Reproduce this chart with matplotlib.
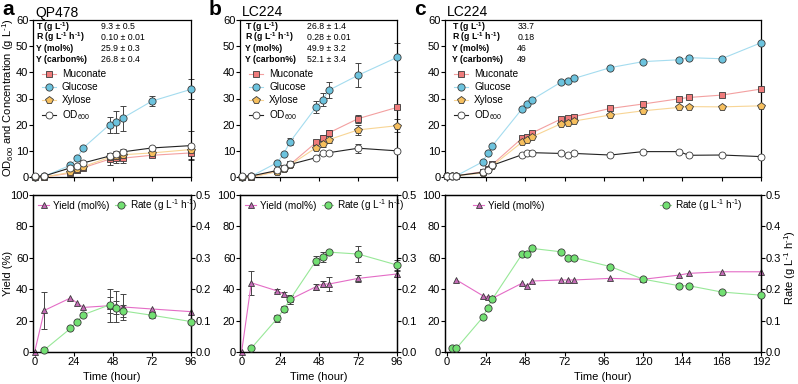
import numpy as np
import matplotlib
matplotlib.use('Agg')
import matplotlib.pyplot as plt
from matplotlib.ticker import FormatStrFormatter

plt.rcParams['font.family'] = ['Liberation Sans', 'DejaVu Sans']
plt.rcParams['mathtext.fontset'] = 'custom'
plt.rcParams['mathtext.rm'] = 'Liberation Sans'
plt.rcParams['mathtext.bf'] = 'Liberation Sans:bold'
plt.rcParams['mathtext.it'] = 'Liberation Sans:italic'

INV = r'$^{\mathrm{‐1}}$'        # small raised "-1"
INV_B = r'$^{\mathbf{‐1}}$'

# ---- data ----
time_ab = [0, 6, 22, 26, 30, 46, 50, 54, 72, 96]
time_c = [0, 3, 6, 22, 25, 28, 46, 49, 52, 70, 74, 78, 100, 120, 142, 148, 168, 192]

a_muconate = [0, 0, 1.5, 2.5, 3.6, 6.8, 7.2, 7.2, 8.3, 9.2]
a_muconate_err = [0, 0, 0.5, 0.5, 0.6, 2.3, 2.0, 2.0, 0.8, 2.3]
a_glucose = [0, 0.3, 4.5, 7.3, 11.2, 20.0, 21.0, 22.5, 29.0, 33.5]
a_glucose_err = [0, 0, 0, 0, 0, 3.0, 4.2, 4.8, 1.8, 3.8]
a_xylose = [0, 0, 1.8, 3.0, 4.0, 7.5, 8.0, 8.5, 9.2, 10.5]
a_xylose_err = [0, 0, 0.5, 0.5, 0.6, 1.5, 1.5, 1.5, 1.0, 1.5]
a_od = [0.3, 0.4, 3.5, 4.2, 5.4, 8.0, 8.8, 9.6, 11.1, 12.0]
a_od_err = [0, 0, 0, 0, 0, 1.0, 1.0, 1.0, 0.5, 5.5]
a_yield = [0, 26.5, 34.4, 31.2, 28.4, 29.5, 29.1, 28.7, 27.4, 25.7]
a_yield_err = [0, 11.8, 0, 0, 0, 10.6, 9.8, 8.0, 0, 0]
a_rate = [0.007, 0.075, 0.097, 0.119, 0.15, 0.141, 0.131, 0.117, 0.097]
a_rate_err = [0, 0, 0, 0, 0.025, 0.02, 0.02, 0.01, 0]

b_muconate = [0, 0, 2.3, 3.6, 4.8, 13.2, 14.9, 16.9, 22.3, 26.6]
b_muconate_err = [0, 0, 0.5, 0.5, 0.5, 1.0, 1.0, 1.0, 1.5, 0.5]
b_glucose = [0, 0.3, 5.5, 8.9, 13.5, 26.7, 29.5, 33.2, 38.9, 45.7]
b_glucose_err = [0, 0, 0, 0, 1.3, 2.3, 2.5, 3.0, 4.5, 5.5]
b_xylose = [0, 0, 2.0, 3.2, 4.6, 11.2, 12.6, 14.3, 18.0, 19.6]
b_xylose_err = [0, 0, 0.3, 0.3, 0.5, 1.0, 1.0, 1.2, 1.8, 2.5]
b_od = [0.3, 0.4, 2.5, 3.5, 4.8, 7.4, 9.3, 9.3, 11.0, 10.0]
b_od_err = [0, 0, 0, 0, 0, 0.3, 0.5, 0.3, 1.7, 0.3]
b_yield = [0, 44.1, 38.9, 36.9, 33.5, 41.6, 43.3, 43.3, 46.9, 49.7]
b_yield_err = [0, 7.7, 1.0, 1.0, 3.0, 2.0, 2.0, 4.5, 2.0, 2.0]
b_rate = [0.012, 0.107, 0.136, 0.168, 0.291, 0.302, 0.318, 0.312, 0.277]
b_rate_err = [0, 0.01, 0.01, 0.015, 0.015, 0.015, 0, 0.025, 0.015]

c_muconate = [0.5, 0.5, 0.5, 2.0, 3.1, 4.8, 14.8, 15.4, 16.8, 22.2, 22.5, 23.1, 26.2, 27.9, 29.9, 30.4, 31.3, 33.6]
c_glucose = [0.5, 0.5, 0.5, 5.8, 9.0, 12.0, 26.0, 28.0, 29.5, 36.3, 36.7, 37.7, 41.8, 44.1, 44.8, 45.6, 45.2, 51.3]
c_xylose = [0.5, 0.5, 0.5, 1.5, 2.7, 4.3, 13.3, 14.0, 15.3, 20.4, 20.6, 21.4, 23.7, 25.3, 26.6, 26.9, 26.8, 27.2]
c_od = [0.5, 0.5, 0.5, 1.8, 2.8, 4.5, 8.5, 9.0, 9.3, 9.0, 8.5, 9.0, 8.4, 9.7, 9.7, 8.3, 8.4, 7.8]
c_yield = [45.9, 35.9, 35.0, 34.2, 43.8, 42.0, 45.2, 45.9, 45.9, 45.9, 46.9, 46.3, 49.0, 50.1, 51.1, 51.1]
c_rate = [0.012, 0.012, 0.11, 0.141, 0.169, 0.311, 0.311, 0.33, 0.319, 0.3, 0.3, 0.272, 0.232, 0.211, 0.211, 0.191, 0.181]

stat_labels = ['T (g L' + INV_B + ')', 'R (g L' + INV_B + ' h' + INV_B + ')', 'Y (mol%)', 'Y (carbon%)']
a_stats = ['9.3 ± 0.5', '0.10 ± 0.01', '25.9 ± 0.3', '26.8 ± 0.4']
b_stats = ['26.8 ± 1.4', '0.28 ± 0.01', '49.9 ± 3.2', '52.1 ± 3.4']
c_stats = ['33.7', '0.18', '46', '49']

# ---- styles ----
EDGE = '#3a3a3a'
muc_st = dict(marker='s', ms=4.6, mfc='#ef7b7b', color='#f3a0a0')
glc_st = dict(marker='o', ms=5.2, mfc='#6cc3de', color='#a4dcef')
xyl_st = dict(marker='p', ms=6.0, mfc='#f6bf5e', color='#f8d595')
od_st = dict(marker='o', ms=5.0, mfc='white', color='#222222')
yld_st = dict(marker='^', ms=5.0, mfc='#c46bb6', color='#e46cc6')
rate_st = dict(marker='o', ms=5.2, mfc='#72e072', color='#98e898')

W, H = 798, 384
fig = plt.figure(figsize=(W / 100, H / 100), dpi=100)


def box(x0, y0, x1, y1):
    return [x0 / W, 1 - y1 / H, (x1 - x0) / W, (y1 - y0) / H]


def series(ax, t, y, err, st, label):
    t = np.asarray(t, float)
    y = np.asarray(y, float)
    if err is not None:
        err = np.asarray(err, float)
        m = err > 0
        ax.errorbar(t[m], y[m], yerr=err[m], fmt='none', ecolor='#444444',
                    elinewidth=0.7, capsize=2.2, capthick=0.7, zorder=2, clip_on=False)
    ax.plot(t, y, lw=0.8, mec=EDGE, mew=0.6, label=label, zorder=3, clip_on=False, **st)


def style_ax(ax, xmax, labelbottom):
    ax.set_xlim(-1, xmax)
    ax.set_xticks(np.arange(0, xmax + 1, 24))
    ax.tick_params(direction='out', length=2.6, width=0.8, labelsize=8, pad=0.8,
                   labelbottom=labelbottom)
    for s in ax.spines.values():
        s.set_linewidth(0.9)


def stats(ax, vals, lab_dx, val_dx):
    for i, (lab, v) in enumerate(zip(stat_labels, vals)):
        dy = -4.8 - 7.8 * i
        ax.annotate(lab, xy=(0, 1), xycoords='axes fraction', xytext=(lab_dx, dy),
                    textcoords='offset points', va='center', ha='left',
                    fontsize=6.3, fontweight='bold')
        ax.annotate(v, xy=(0, 1), xycoords='axes fraction', xytext=(val_dx, dy),
                    textcoords='offset points', va='center', ha='left', fontsize=6.3)


panels = [
    ('a', 'QP478', (33, 191), 96, time_ab,
     (a_muconate, a_muconate_err, a_glucose, a_glucose_err, a_xylose, a_xylose_err, a_od, a_od_err),
     (a_yield, a_yield_err, a_rate, a_rate_err), a_stats, (2.2, 49)),
    ('b', 'LC224', (240, 397), 96, time_ab,
     (b_muconate, b_muconate_err, b_glucose, b_glucose_err, b_xylose, b_xylose_err, b_od, b_od_err),
     (b_yield, b_yield_err, b_rate, b_rate_err), b_stats, (3.6, 48)),
    ('c', 'LC224', (445, 761), 192, time_c,
     (c_muconate, None, c_glucose, None, c_xylose, None, c_od, None),
     (c_yield, None, c_rate, None), c_stats, (4.8, 52)),
]

for letter, title, (x0, x1), xmax, t, top, bot, st_vals, (ldx, vdx) in panels:
    ax = fig.add_axes(box(x0, 20, x1, 177))
    muc, muc_e, glc, glc_e, xyl, xyl_e, od, od_e = top
    series(ax, t, muc, muc_e, muc_st, 'Muconate')
    series(ax, t, glc, glc_e, glc_st, 'Glucose')
    series(ax, t, xyl, xyl_e, xyl_st, 'Xylose')
    series(ax, t, od, od_e, od_st, r'OD$_{\mathrm{600}}$')
    ax.set_ylim(0, 60)
    ax.set_yticks(range(0, 61, 10))
    style_ax(ax, xmax, False)
    stats(ax, st_vals, ldx, vdx)
    w = x1 - x0
    ax.legend(loc='upper left', bbox_to_anchor=(9 / w, 1 - 49 / 157), frameon=False,
              fontsize=7.2, handlelength=1.4, handletextpad=0.6, labelspacing=0.32,
              borderpad=0, borderaxespad=0)
    fig.text(x0 / W - 31 / W, 1 - 15 / H, letter, fontsize=15, fontweight='bold', va='baseline')
    fig.text((x0 + 2) / W, 1 - 16.5 / H, title, fontsize=10, va='baseline')

    bx = fig.add_axes(box(x0, 195, x1, 352))
    rx = bx.twinx()
    yld, yld_e, rate, rate_e = bot
    tb = t[len(t) - len(yld):]
    tr = t[len(t) - len(rate):]
    series(bx, tb, yld, yld_e, yld_st, 'Yield (mol%)')
    series(rx, tr, rate, rate_e, rate_st, 'Rate (g L' + INV + ' h' + INV + ')')
    bx.set_ylim(0, 100)
    bx.set_yticks(range(0, 101, 20))
    rx.set_ylim(0, 0.5)
    rx.set_yticks(np.arange(0, 0.51, 0.1))
    rx.yaxis.set_major_formatter(FormatStrFormatter('%.1f'))
    style_ax(bx, xmax, True)
    style_ax(rx, xmax, True)
    handles = bx.get_legend_handles_labels()[0] + rx.get_legend_handles_labels()[0]
    if letter == 'c':
        rx.legend(handles=handles, loc='upper center', bbox_to_anchor=(0.5 + 5 / w, 1 - 2 / 157),
                  ncol=2, frameon=False, fontsize=7.2, handlelength=1.1,
                  handletextpad=0.4, columnspacing=11.6, borderpad=0, borderaxespad=0)
    else:
        rx.legend(handles=handles, loc='upper left', bbox_to_anchor=(5 / w, 1 - 2 / 157),
                  ncol=2, frameon=False, fontsize=7.2, handlelength=1.1,
                  handletextpad=0.4, columnspacing=0.6, borderpad=0, borderaxespad=0)
    fig.text((x0 + x1) / 2 / W, 1 - 377 / H, 'Time (hour)', fontsize=8, ha='center', va='center')

fig.text(8 / W, 1 - 98 / H, r'OD$_{\mathrm{600}}$ and Concentration (g L' + INV + ')',
         fontsize=8, rotation=90, ha='center', va='center')
fig.text(8 / W, 1 - 273 / H, 'Yield (%)', fontsize=8, rotation=90, ha='center', va='center')
fig.text(790 / W, 1 - 268 / H, 'Rate (g L' + INV + ' h' + INV + ')',
         fontsize=8, rotation=90, ha='center', va='center')

fig.savefig('out.png', dpi=100)
